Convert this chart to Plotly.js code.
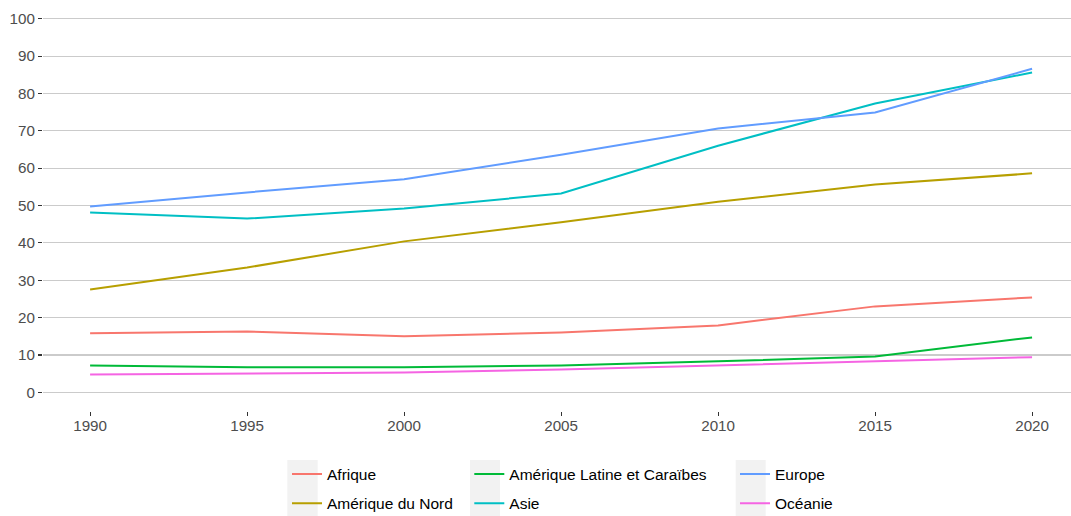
<!DOCTYPE html>
<html>
<head>
<meta charset="utf-8">
<script src="https://cdn.plot.ly/plotly-3.0.1.min.js"></script>
<style>
html,body{margin:0;padding:0;background:#fff;}
#chart{width:1071px;height:516px;}
</style>
</head>
<body>
<div id="chart"></div>
<script>
var years = [1990, 1995, 2000, 2005, 2010, 2015, 2020];
var regions = ["Afrique", "Amérique du Nord", "Amérique Latine et Caraïbes", "Asie", "Europe", "Océanie"];
var afrique = [15.8, 16.3, 15.0, 16.0, 17.9, 23.0, 25.4];
var ameriqueNord = [27.5, 33.4, 40.4, 45.5, 51.0, 55.6, 58.6];
var ameriqueLatine = [7.2, 6.7, 6.7, 7.2, 8.3, 9.6, 14.7];
var asie = [48.1, 46.5, 49.2, 53.2, 66.0, 77.3, 85.6];
var europe = [49.7, 53.5, 57.0, 63.6, 70.6, 74.9, 86.6];
var oceanie = [4.8, 5.0, 5.3, 6.1, 7.2, 8.3, 9.4];
var yTicks = [0, 10, 20, 30, 40, 50, 60, 70, 80, 90, 100];
var xTicks = [1990, 1995, 2000, 2005, 2010, 2015, 2020];

var seriesValues = [afrique, ameriqueNord, ameriqueLatine, asie, europe, oceanie];
var colors = ["#F8766D", "#B79F00", "#00BA38", "#00BFC4", "#619CFF", "#F564E3"];
var legendIds = ["legend", "legend", "legend2", "legend2", "legend3", "legend3"];

var FONT = "'Liberation Sans', Arial, Helvetica, sans-serif";

var traces = regions.map(function (name, i) {
  return {
    type: "scatter",
    mode: "lines",
    name: name,
    x: years,
    y: seriesValues[i],
    line: {color: colors[i], width: 2},
    legend: legendIds[i],
    legendgroup: "g" + i,
    hoverinfo: "skip"
  };
});

function legendAt(x) {
  return {
    x: x, y: -0.1132, xref: "paper", yref: "paper",
    xanchor: "left", yanchor: "top",
    orientation: "v",
    bgcolor: "rgba(0,0,0,0)",
    borderwidth: 0,
    tracegroupgap: 6,
    itemwidth: 30,
    font: {family: FONT, size: 15.5, color: "#000000"}
  };
}

var keyBox = function (x0, x1) {
  return {
    type: "rect", xref: "paper", yref: "paper",
    x0: x0, x1: x1, y0: (411 - 460) / 411, y1: (411 - 518) / 411,
    fillcolor: "#F2F2F2", line: {width: 0}, layer: "below"
  };
};

var layout = {
  width: 1071,
  height: 516,
  margin: {l: 43, r: 0, t: 0, b: 105, autoexpand: false},
  paper_bgcolor: "#ffffff",
  plot_bgcolor: "#ffffff",
  font: {family: FONT, size: 15.2, color: "#4D4D4D"},
  showlegend: true,
  xaxis: {
    range: [1988.5, 2021.24],
    tickmode: "array",
    tickvals: xTicks,
    ticktext: xTicks.map(String),
    showgrid: false,
    zeroline: false,
    showline: false,
    automargin: false,
    ticks: "outside",
    ticklen: 4,
    tickwidth: 1.1,
    tickcolor: "#333333",
    ticklabelstandoff: -3,
    tickfont: {family: FONT, size: 15.2, color: "#4D4D4D"}
  },
  yaxis: {
    range: [-5, 105],
    tickmode: "array",
    tickvals: yTicks,
    ticktext: yTicks.map(String),
    showgrid: true,
    gridcolor: "#CBCBCB",
    gridwidth: 1.1,
    zeroline: false,
    showline: false,
    automargin: false,
    ticks: "outside",
    ticklen: 4,
    tickwidth: 1.1,
    tickcolor: "#333333",
    tickfont: {family: FONT, size: 15.2, color: "#4D4D4D"}
  },
  legend: legendAt((287 - 43) / 1028),
  legend2: legendAt((469.3 - 43) / 1028),
  legend3: legendAt((735 - 43) / 1028),
  shapes: [
    keyBox((287.3 - 43) / 1028, (317.7 - 43) / 1028),
    keyBox((470 - 43) / 1028, (500 - 43) / 1028),
    keyBox((735.7 - 43) / 1028, (765.7 - 43) / 1028)
  ]
};

Plotly.newPlot("chart", traces, layout, {staticPlot: true, displayModeBar: false});
</script>
</body>
</html>
